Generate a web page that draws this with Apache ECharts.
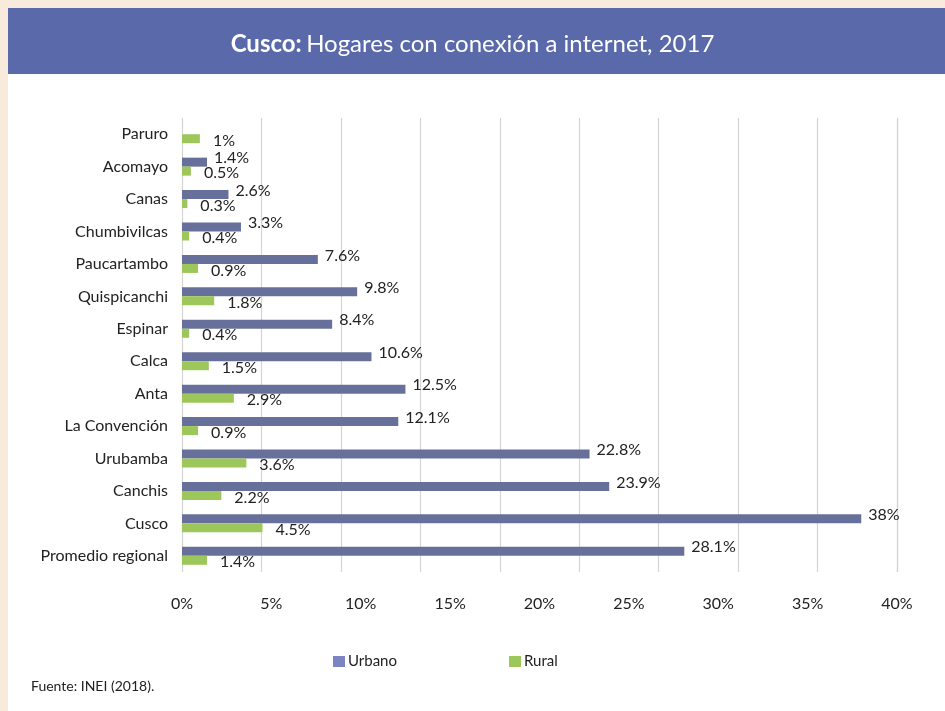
<!DOCTYPE html>
<html>
<head>
<meta charset="utf-8">
<script src="https://cdn.jsdelivr.net/npm/echarts@6/dist/echarts.min.js"></script>
<style>html,body{margin:0;padding:0;background:#fff}#c{width:945px;height:711px}</style>
</head>
<body>
<div id="c"></div>
<script>
const categories = ['Paruro','Acomayo','Canas','Chumbivilcas','Paucartambo','Quispicanchi','Espinar','Calca','Anta','La Convención','Urubamba','Canchis','Cusco','Promedio regional'];
const urbano = [null,1.4,2.6,3.3,7.6,9.8,8.4,10.6,12.5,12.1,22.8,23.9,38,28.1];
const rural = [1,0.5,0.3,0.4,0.9,1.8,0.4,1.5,2.9,0.9,3.6,2.2,4.5,1.4];
const xTicks = [0,5,10,15,20,25,30,35,40];

const FONT = 'Lato';
const chart = echarts.init(document.getElementById('c'));
chart.setOption({
  backgroundColor: '#fff',
  textStyle: {fontFamily: FONT},
  graphic: [
    {type:'rect', shape:{x:0,y:0,width:945,height:8}, style:{fill:'#F9EBDB'}, silent:true, z:-1},
    {type:'rect', shape:{x:0,y:0,width:8,height:711}, style:{fill:'#F9EBDB'}, silent:true, z:-1},
    {type:'rect', shape:{x:8,y:8,width:937,height:66}, style:{fill:'#5A69AA'}, silent:true, z:-1},
    {type:'text', left:31, top:679, style:{text:'Fuente: INEI (2018).', fill:'#222', font:'14px Lato'}}
  ],
  title: {
    text: '{b|Cusco:} {r|Hogares con conexión a internet, 2017}',
    left: 'center', top: 27,
    textStyle: {
      rich: {
        b: {fontFamily: FONT, fontSize: 24, fontWeight: 'bold', color: '#fff'},
        r: {fontFamily: FONT, fontSize: 24, fontWeight: 'normal', color: '#fff'}
      }
    }
  },
  legend: {
    left: 328, top: 649,
    itemWidth: 12, itemHeight: 11, itemGap: 112,
    icon: 'rect',
    textStyle: {fontFamily: FONT, fontSize: 15, color: '#222', padding:[0,0,0,-2]},
    data: [
      {name:'Urbano', itemStyle:{color:'#7C85C1'}},
      {name:'Rural', itemStyle:{color:'#9DC75A'}}
    ]
  },
  grid: {left: 182, right: 48, top: 118, bottom: 139},
  xAxis: [
    {
      type: 'value', min: xTicks[0], max: xTicks[xTicks.length-1], interval: 5,
      axisLine: {show:false}, axisTick: {show:false},
      splitLine: {show:false},
      axisLabel: {margin: 24, fontFamily: FONT, fontSize: 16, color:'#222', formatter: v => v + '%'}
    },
    {
      type: 'value', min: 0, max: 40, interval: 40/9, position: 'bottom',
      axisLine: {show:false}, axisTick: {show:false}, axisLabel: {show:false},
      splitLine: {show:true, lineStyle:{color:'#D4D4D4', width:1.2}}
    }
  ],
  yAxis: {
    type: 'category', data: categories, inverse: true,
    axisLine: {show:false}, axisTick: {show:false},
    axisLabel: {margin: 14, fontFamily: FONT, fontSize: 16, color:'#222'}
  },
  series: [
    {
      name: 'Urbano', type: 'bar', data: urbano, barWidth: 9, barGap: '0%',
      itemStyle: {color: '#67709B'},
      label: {show: true, position: 'right', distance: 7, offset:[0,-4], fontFamily: FONT, fontSize: 16, color:'#222',
        formatter: p => p.value + '%'}
    },
    {
      name: 'Rural', type: 'bar', data: rural, barWidth: 9, barGap: '0%',
      itemStyle: {color: '#9DC75A'},
      label: {show: true, position: 'right', distance: 13, offset:[0,2], fontFamily: FONT, fontSize: 16, color:'#222',
        formatter: p => p.value + '%'}
    }
  ]
});
</script>
</body>
</html>
